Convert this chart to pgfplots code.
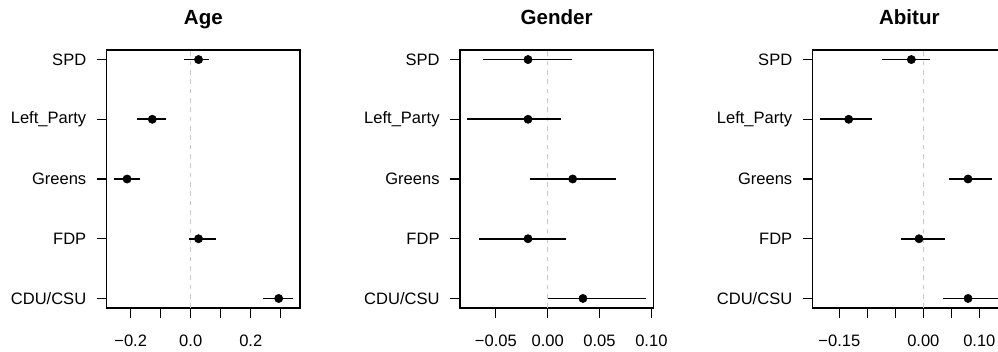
\documentclass[border=0pt]{standalone}
\usepackage{fontspec}
\setmainfont{Liberation Sans}
\usepackage{pgfplots}
\usepackage{pgfplotstable}
\pgfplotsset{compat=1.18}

\pgfplotstableread{
y est lo hi
5 0.026 -0.022 0.062
4 -0.128 -0.178 -0.082
3 -0.212 -0.256 -0.169
2 0.026 -0.006 0.083
1 0.293 0.242 0.340
}\agetab

\pgfplotstableread{
y est lo hi
5 -0.019 -0.0623 0.0234
4 -0.019 -0.0777 0.0132
3 0.0241 -0.0173 0.0662
2 -0.019 -0.0665 0.0177
1 0.034 0.000 0.0950
}\gendertab

\pgfplotstableread{
y est lo hi
5 -0.0214 -0.0738 0.0119
4 -0.1333 -0.1850 -0.0923
3 0.0798 0.0458 0.1220
2 -0.0077 -0.0405 0.0381
1 0.0798 0.0357 0.1350
}\abiturtab

\definecolor{zerogray}{RGB}{200,200,200}

\pgfplotsset{
  forest/.style={
    scale only axis, width=145pt, height=193.5pt, anchor=north west,
    ymin=0.84, ymax=5.16, ytick={1,2,3,4,5},
    yticklabels={CDU/CSU,FDP,Greens,Left\_Party,SPD},
    tick align=outside, major tick length=7.5pt,
    xtick pos=lower, ytick pos=left,
    axis line style={line width=0.9pt},
    every tick/.style={line width=0.9pt, black},
    tick label style={font=\fontsize{12.4}{14}\selectfont},
    yticklabel style={anchor=east, xshift=-4.3pt},
    xticklabel style={anchor=base, yshift=-21pt},
    title style={font=\fontsize{15.4}{18}\selectfont\bfseries, anchor=south, inner sep=0pt, text depth=0pt, yshift=12.75pt},
    clip=false,
  },
  ci/.style={only marks, mark=*, mark size=3.1pt, black,
    error bars/.cd, x dir=both, x explicit, error mark=none,
    error bar style={line width=1.4pt, black}},
}

\begin{document}
\begin{tikzpicture}
\useasboundingbox (0,0) rectangle (748.5pt,-263.25pt);
\clip (0,0) rectangle (748.5pt,-263.25pt);

\begin{axis}[forest, at={(80pt,-37.5pt)}, title={Age},
  xmin=-0.280, xmax=0.364,
  xtick={-0.2,-0.1,0,0.1,0.2,0.3},
  xticklabels={−0.2,,0.0,,0.2,}]
\draw[zerogray, dash pattern=on 3.5pt off 3.5pt, line width=0.8pt] (axis cs:0,0.84) -- (axis cs:0,5.16);
\addplot[ci] table[x=est, y=y, x error plus expr=\thisrow{hi}-\thisrow{est}, x error minus expr=\thisrow{est}-\thisrow{lo}] {\agetab};
\end{axis}

\begin{axis}[forest, at={(345pt,-37.5pt)}, title={Gender},
  xmin=-0.0846, xmax=0.1019,
  xtick={-0.05,0,0.05,0.1},
  xticklabels={−0.05,0.00,0.05,0.10}]
\draw[zerogray, dash pattern=on 3.5pt off 3.5pt, line width=0.8pt] (axis cs:0,0.84) -- (axis cs:0,5.16);
\addplot[ci] table[x=est, y=y, x error plus expr=\thisrow{hi}-\thisrow{est}, x error minus expr=\thisrow{est}-\thisrow{lo}] {\gendertab};
\end{axis}

\begin{axis}[forest, at={(609.5pt,-37.5pt)}, title={Abitur},
  xmin=-0.1976, xmax=0.1476,
  xtick={-0.15,-0.1,-0.05,0,0.05,0.1},
  xticklabels={−0.15,,,0.00,,0.10}]
\draw[zerogray, dash pattern=on 3.5pt off 3.5pt, line width=0.8pt] (axis cs:0,0.84) -- (axis cs:0,5.16);
\addplot[ci] table[x=est, y=y, x error plus expr=\thisrow{hi}-\thisrow{est}, x error minus expr=\thisrow{est}-\thisrow{lo}] {\abiturtab};
\end{axis}
\end{tikzpicture}
\end{document}
